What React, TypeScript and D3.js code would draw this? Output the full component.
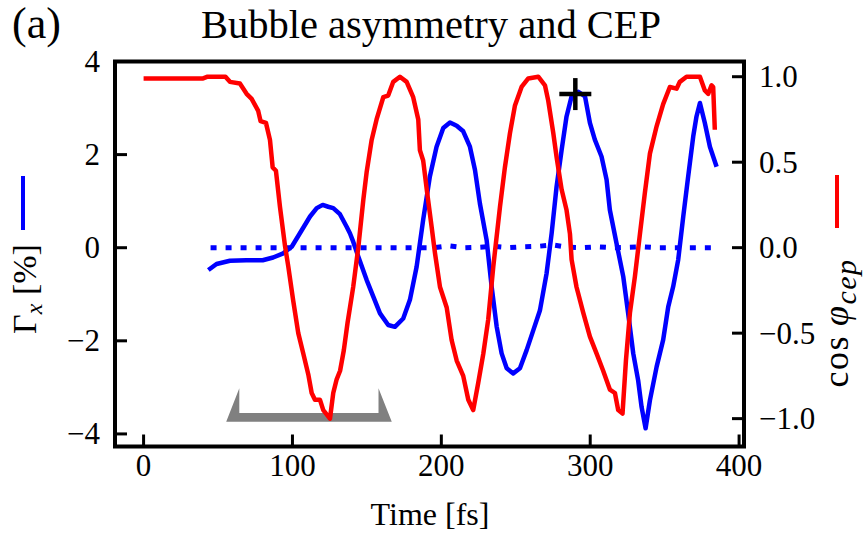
import React from "react";
import * as d3 from "d3";

// cos of the carrier-envelope phase vs time (right axis)
const cepTime = [0, 40, 43, 55, 58, 64.7, 69.2, 72.6, 77, 78.6, 82.2, 84.9, 86.7, 88.9, 91.6, 95, 97.2, 100.5, 103.9, 107.3, 110.6, 112.9, 115.1, 118.5, 120.7, 125.2, 127.4, 129.7, 132, 134.5, 137, 140.8, 144.2, 147.6, 149.8, 153.2, 156.5, 161, 164.3, 167.7, 172.2, 176.7, 181.1, 184.5, 185.6, 187.8, 190.5, 193.5, 195.7, 199.1, 203.6, 206.9, 210.3, 214.7, 218.1, 221.4, 224.8, 228.2, 231.5, 234.9, 239.4, 242.7, 246.1, 249.4, 253.9, 258.4, 265.1, 269.6, 271.8, 275.2, 277.4, 280.8, 284.1, 286.4, 287.5, 290.8, 295.3, 299.8, 304.3, 308.7, 313.2, 316.6, 318.8, 321.7, 324, 326.7, 330, 333.4, 336.7, 340.1, 344.6, 349, 353.5, 358, 360.2, 364.7, 373.7, 377, 379.3, 381.5, 382.6, 383.7];
const cepValue = [0.99, 0.99, 1.0, 1.0, 0.97, 0.96, 0.9, 0.87, 0.8, 0.74, 0.73, 0.63, 0.47, 0.45, 0.24, 0.01, -0.11, -0.31, -0.5, -0.62, -0.74, -0.85, -0.89, -0.89, -0.95, -1.0, -0.85, -0.77, -0.72, -0.6, -0.44, -0.23, 0.0, 0.28, 0.44, 0.63, 0.75, 0.88, 0.89, 0.97, 1.0, 0.97, 0.88, 0.75, 0.57, 0.51, 0.32, 0.12, -0.03, -0.23, -0.35, -0.54, -0.66, -0.75, -0.89, -0.95, -0.79, -0.62, -0.42, -0.11, 0.24, 0.47, 0.67, 0.83, 0.94, 0.99, 1.0, 0.95, 0.86, 0.67, 0.53, 0.34, 0.22, 0.08, -0.07, -0.23, -0.38, -0.52, -0.62, -0.72, -0.83, -0.85, -0.95, -0.97, -0.66, -0.38, -0.17, 0.08, 0.32, 0.55, 0.71, 0.84, 0.94, 0.93, 0.97, 1.0, 1.0, 0.92, 0.9, 0.95, 0.94, 0.69];

// bubble asymmetry Γx in percent (left axis)
const asymTime = [43.5, 49, 58, 69, 80, 87, 93.8, 99.5, 105, 111.8, 116.3, 120.3, 124, 127.4, 131.9, 136.4, 138.6, 140.8, 144.2, 149.8, 154.3, 158.8, 164.3, 168.8, 174.4, 178.9, 183.4, 187.8, 192.3, 196.8, 201.3, 205.8, 210.3, 214.7, 219.2, 222.6, 225.9, 230.4, 233.8, 237.2, 240.5, 243.9, 248.3, 252.8, 257.3, 261.8, 266.2, 270.7, 274.1, 277.4, 280.8, 284.1, 287.5, 292, 296.5, 299.8, 303.1, 307.6, 311, 313.2, 317.7, 322.2, 325.5, 328.9, 332.2, 334.5, 337.2, 340.1, 344.6, 349, 352.4, 355.7, 359.1, 362.5, 365.8, 369.2, 371.4, 373.7, 377, 380.4, 384.9];
const asymValue = [-0.48, -0.35, -0.28, -0.27, -0.27, -0.21, -0.12, 0.02, 0.31, 0.67, 0.85, 0.92, 0.88, 0.85, 0.72, 0.45, 0.31, 0.13, -0.19, -0.69, -1.05, -1.41, -1.66, -1.7, -1.52, -1.12, -0.41, 0.6, 1.53, 2.17, 2.57, 2.69, 2.62, 2.5, 2.17, 1.67, 0.95, 0.17, -0.84, -1.7, -2.27, -2.59, -2.7, -2.59, -2.2, -1.77, -1.35, -0.55, 0.31, 1.31, 2.1, 2.82, 3.25, 3.35, 3.25, 2.68, 2.32, 1.96, 1.46, 0.81, 0.09, -0.62, -1.41, -2.27, -2.85, -3.42, -3.88, -3.28, -2.56, -1.98, -1.27, -0.84, -0.26, 0.67, 1.53, 2.39, 2.82, 3.11, 2.68, 2.17, 1.74];

// reference asymmetry of the unperturbed run (dotted)
const refTime = [45, 55, 65, 75, 85, 95, 105, 115, 125, 135, 145, 155, 165, 175, 185, 195, 205, 215, 225, 235, 245, 255, 265, 275, 285, 295, 305, 315, 325, 335, 345, 355, 365, 375, 385];
const refValue = [0, 0, 0, 0, 0, 0, 0, 0, 0, 0, 0, 0, 0, 0, 0, 0, 0.04, 0, 0.01, 0.03, 0, 0.02, 0.03, 0.06, 0.01, 0, 0.02, 0, 0.01, 0.02, 0, 0, 0, 0, 0];

// laser pulse duration bracket
const pulseTime = [55.5, 64.3, 64.3, 157.8, 157.8, 166.7];
const pulseLevel = [-3.74, -3.02, -3.55, -3.55, -3.02, -3.74];

// highlighted asymmetry maximum
const peakTime = 290;
const peakValue = 3.3;

const timeTicks = [0, 100, 200, 300, 400];
const asymTicks = [-4, -2, 0, 2, 4];
const cepTicks = [-1, -0.5, 0, 0.5, 1];

const W = 863;
const H = 535;
const L = 115;
const R = 744;
const T = 61.5;
const B = 446.5;
const FONT = "'Liberation Serif', 'Times New Roman', serif";

type STextProps = {
  x: number;
  y: number;
  size: number;
  anchor?: "start" | "middle" | "end";
  baseline?: string;
  rotate?: number;
  fill?: string;
  spacing?: number;
  children: React.ReactNode;
};

function SText({ x, y, size, anchor = "start", baseline = "auto", rotate = 0, fill = "#000", spacing = 0, children }: STextProps) {
  return (
    <text
      transform={`translate(${x},${y})${rotate ? ` rotate(${rotate})` : ""}`}
      textAnchor={anchor}
      dominantBaseline={baseline}
      fontSize={size}
      fontFamily={FONT}
      fill={fill}
      letterSpacing={spacing}
    >
      {children}
    </text>
  );
}

export default function App() {
  const x = d3.scaleLinear().domain([-19.2, 403.3]).range([L, R]);
  const yL = d3.scaleLinear().domain([-4.27, 4]).range([B, T]);
  const yR = d3.scaleLinear().domain([-1.163, 1.089]).range([B, T]);

  const cepPts: [number, number][] = cepTime.map((t, i) => [t, cepValue[i]]);
  const asymPts: [number, number][] = asymTime.map((t, i) => [t, asymValue[i]]);
  const refPts: [number, number][] = refTime.map((t, i) => [t, refValue[i]]);
  const pulsePts: [number, number][] = pulseTime.map((t, i) => [x(t), yL(pulseLevel[i])]);

  const lineL = d3.line<[number, number]>().x((d) => x(d[0])).y((d) => yL(d[1]));
  const lineR = d3.line<[number, number]>().x((d) => x(d[0])).y((d) => yR(d[1]));

  const fmtL = d3.format("d");
  const fmtR = d3.format(".1f");
  const tickLen = 12;

  const px = x(peakTime);
  const py = yL(peakValue);
  const arm = 16;

  return (
    <svg width={W} height={H} style={{ position: "absolute", left: 0, top: 0, background: "#fff" }}>
      <rect x={0} y={0} width={W} height={H} fill="#fff" />

      <polygon points={pulsePts.map((p) => p.join(",")).join(" ")} fill="#808080" />

      <path d={lineL(refPts) || ""} fill="none" stroke="#0000ff" strokeWidth={5} strokeDasharray="6 9" />
      <path d={lineL(asymPts) || ""} fill="none" stroke="#0000ff" strokeWidth={4.5} strokeLinejoin="round" />
      <path d={lineR(cepPts) || ""} fill="none" stroke="#ff0000" strokeWidth={4.5} strokeLinejoin="round" />

      <g stroke="#000" strokeWidth={4.5}>
        <line x1={px - arm} x2={px + arm} y1={py} y2={py} />
        <line x1={px} x2={px} y1={py - arm} y2={py + arm} />
      </g>

      {/* ticks */}
      <g stroke="#000" strokeWidth={3}>
        {asymTicks.map((v) => (
          <line key={`l${v}`} x1={L} x2={L + tickLen} y1={yL(v)} y2={yL(v)} />
        ))}
        {cepTicks.map((v) => (
          <line key={`r${v}`} x1={R} x2={R - tickLen} y1={yR(v)} y2={yR(v)} />
        ))}
        {timeTicks.map((v) => (
          <line key={`b${v}`} x1={x(v)} x2={x(v)} y1={B} y2={B - tickLen} />
        ))}
      </g>
      <rect x={L} y={T} width={R - L} height={B - T} fill="none" stroke="#000" strokeWidth={4} />

      {/* tick labels */}
      {asymTicks.map((v) => (
        <SText key={`tl${v}`} x={100} y={yL(v)} size={31} anchor="end" baseline="central">
          {fmtL(v)}
        </SText>
      ))}
      {cepTicks.map((v) => (
        <SText key={`tr${v}`} x={759} y={yR(v)} size={31} anchor="start" baseline="central">
          {fmtR(v)}
        </SText>
      ))}
      {timeTicks.map((v) => (
        <SText key={`tb${v}`} x={x(v)} y={476} size={31} anchor="middle">
          {fmtL(v)}
        </SText>
      ))}

      {/* titles and axis labels */}
      <SText x={12} y={38} size={44}>(a)</SText>
      <SText x={431} y={38} size={40.5} anchor="middle">Bubble asymmetry and CEP</SText>
      <SText x={430} y={525} size={32} anchor="middle">Time [fs]</SText>

      <line x1={23} x2={23} y1={176} y2={230} stroke="#0000ff" strokeWidth={4} />
      <SText x={36} y={289} size={34} anchor="middle" rotate={-90}>
        Γ<tspan fontStyle="italic" fontSize={24} dy={6}>x</tspan>
        <tspan dy={-6}> [%]</tspan>
      </SText>

      <line x1={837} x2={837} y1={175} y2={228} stroke="#ff0000" strokeWidth={4} />
      <SText x={848} y={323} size={36} anchor="middle" rotate={-90} spacing={1.5}>
        cos<tspan dx={9} fontStyle="italic">φ</tspan>
        <tspan fontStyle="italic" fontSize={30} dy={8}>cep</tspan>
      </SText>
    </svg>
  );
}
